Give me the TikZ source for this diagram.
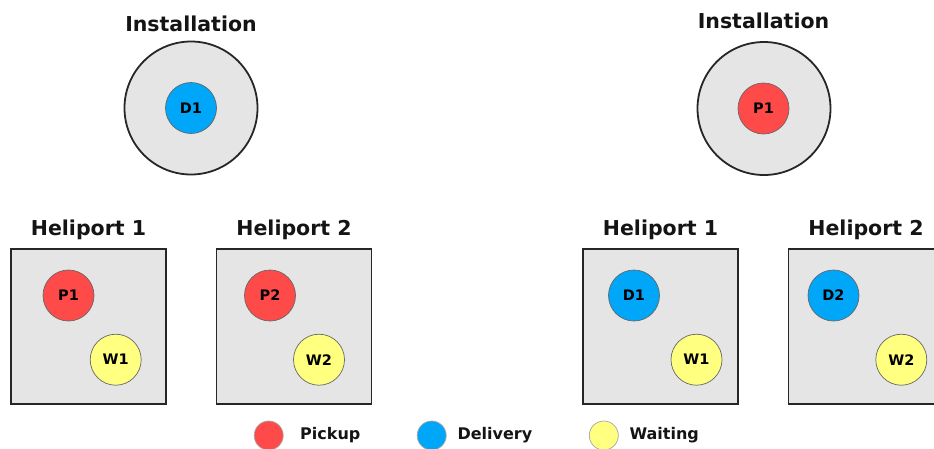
\documentclass[tikz,border=0pt]{standalone}
\usepackage{fontspec}
\setmainfont{DejaVu Sans}
\begin{document}
\begin{tikzpicture}[x=1pt,y=-1pt,
  title/.style={font=\fontsize{20.5}{24}\selectfont\bfseries, text=black!92, inner sep=0pt},
  legtext/.style={font=\fontsize{16}{18}\selectfont\bfseries, text=black!92, inner sep=0pt, anchor=west},
  site/.style={circle, draw=black!85, line width=1.8pt, fill=black!10, minimum size=133pt, inner sep=0pt},
  pad/.style={rectangle, draw=black!85, line width=1.8pt, fill=black!10, minimum size=155pt, inner sep=0pt},
  spot/.style={circle, draw=black!60, line width=0.7pt, minimum size=51pt, inner sep=0pt,
    font=\fontsize{14.5}{16}\selectfont\bfseries, text=black},
  key/.style={circle, draw=black!35, line width=0.7pt, minimum size=29pt, inner sep=0pt},
  pick/.style={fill=pickred},
  deliv/.style={fill=delblue},
  wait/.style={fill=waityellow}]
\definecolor{pickred}{HTML}{FF4A4A}
\definecolor{delblue}{HTML}{00A6F8}
\definecolor{waityellow}{HTML}{FFFF80}
\useasboundingbox (0,0) rectangle (934,448);

% ---- left scenario ----
\node[title] (instL) at (191,24) {Installation};
\node[site] (siteL) at (191,108) {};
\node[spot, deliv] (dL) at (191,108) {D1};

\node[title] (h1Ltitle) at (88.5,230) {Heliport 1};
\node[pad] (h1L) at (88.5,326.5) {};
\node[spot, pick] (p1L) at (68.5,295.5) {P1};
\node[spot, wait] (w1L) at (115.7,359.7) {W1};

\node[title] (h2Ltitle) at (294,230) {Heliport 2};
\node[pad] (h2L) at (294,326.5) {};
\node[spot, pick] (p2L) at (270,295.5) {P2};
\node[spot, wait] (w2L) at (319,359.7) {W2};

% ---- right scenario ----
\node[title] (instR) at (763.5,21) {Installation};
\node[site] (siteR) at (764,108.5) {};
\node[spot, pick] (pR) at (763.5,108.5) {P1};

\node[title] (h1Rtitle) at (660.5,230) {Heliport 1};
\node[pad] (h1R) at (660.5,326.5) {};
\node[spot, deliv] (d1R) at (634,295.5) {D1};
\node[spot, wait] (w1R) at (696.5,359.7) {W1};

\node[title] (h2Rtitle) at (866,230) {Heliport 2};
\node[pad] (h2R) at (866,326.5) {};
\node[spot, deliv] (d2R) at (833.5,295.5) {D2};
\node[spot, wait] (w2R) at (901.3,359.7) {W2};

% ---- legend ----
\node[key, pick] (kp) at (268.7,435.5) {};
\node[legtext] (tp) at (300,435.5) {Pickup};
\node[key, deliv] (kd) at (431.7,435.5) {};
\node[legtext] (td) at (457.3,435.5) {Delivery};
\node[key, wait] (kw) at (603.8,435.5) {};
\node[legtext] (tw) at (629.3,435.5) {Waiting};
\end{tikzpicture}
\end{document}
